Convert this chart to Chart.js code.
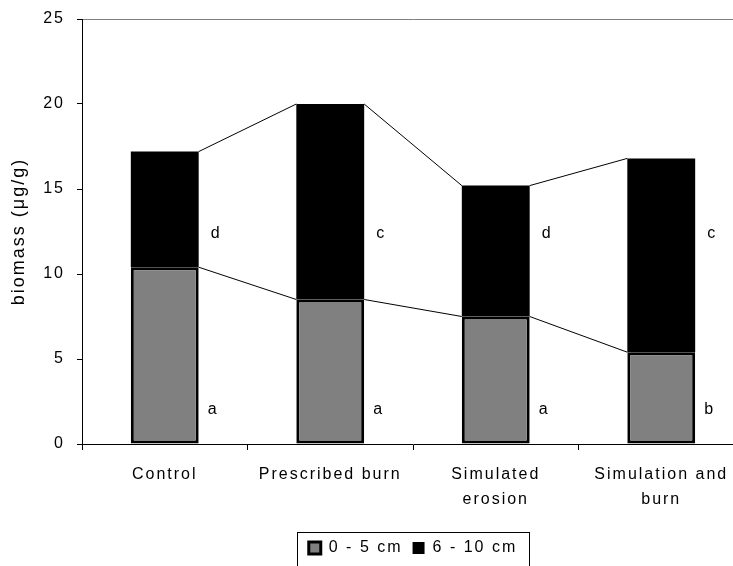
<!DOCTYPE html>
<html><head><meta charset="utf-8">
<script src="https://cdn.jsdelivr.net/npm/chart.js@4"></script>
<style>html,body{margin:0;padding:0;background:#fff;overflow:hidden;width:733px;height:566px}
#wrap{width:744px;height:566px;position:relative}</style>
</head><body><div id="wrap"><canvas id="c" width="744" height="566"></canvas></div>
<script>
const categories = ['Control', 'Prescribed burn', ['Simulated', 'erosion'], ['Simulation and', 'burn']];
const depth0to5 = [10.4, 8.5, 7.5, 5.4];
const depth6to10 = [6.8, 11.5, 7.7, 11.4];
const lettersShallow = ['a', 'a', 'a', 'b'];
const lettersDeep = ['d', 'c', 'd', 'c'];
const yTicks = [0, 5, 10, 15, 20, 25];

const FAMILY = "'Liberation Sans', Arial, sans-serif";
const lineFont = {family: FAMILY, size: 16};

const spacingPlugin = {
  id: 'spacing',
  beforeUpdate(chart) { chart.ctx.letterSpacing = '2px'; },
  beforeDraw(chart) { chart.ctx.letterSpacing = '2px'; }
};

const seriesLines = {
  id: 'seriesLines',
  afterDatasetsDraw(chart) {
    const ctx = chart.ctx;
    ctx.save();
    ctx.strokeStyle = '#000';
    ctx.lineWidth = 1;
    chart.data.datasets.forEach((ds, d) => {
      const meta = chart.getDatasetMeta(d);
      for (let i = 0; i < meta.data.length - 1; i++) {
        const a = meta.data[i], b = meta.data[i + 1];
        ctx.beginPath();
        ctx.moveTo(a.x + a.width / 2, a.y);
        ctx.lineTo(b.x - b.width / 2, b.y);
        ctx.stroke();
      }
    });
    ctx.restore();
  }
};

const letterPlugin = {
  id: 'letters',
  afterDatasetsDraw(chart, args, opts) {
    const ctx = chart.ctx;
    const ys = chart.scales.y;
    const meta = chart.getDatasetMeta(0);
    ctx.save();
    ctx.letterSpacing = '2px';
    ctx.fillStyle = '#000';
    ctx.font = '16px ' + FAMILY;
    ctx.textAlign = 'left';
    ctx.textBaseline = 'middle';
    meta.data.forEach((el, i) => {
      const x = el.x + el.width / 2;
      ctx.fillText(lettersShallow[i], x + opts.dxLow, ys.getPixelForValue(opts.yLow));
      ctx.fillText(lettersDeep[i], x + opts.dxHigh, ys.getPixelForValue(opts.yHigh));
    });
    ctx.restore();
  }
};

const legendBox = {
  id: 'legendBox',
  afterDraw(chart) {
    const hb = chart.legend.legendHitBoxes;
    if (!hb || !hb.length) return;
    const last = hb[hb.length - 1];
    const ctx = chart.ctx;
    ctx.save();
    ctx.strokeStyle = '#000';
    ctx.lineWidth = 1;
    const cy = hb[0].top + hb[0].height / 2;
    const l = Math.round(hb[0].left - 12) + 0.5;
    const r = Math.round(last.left + last.width + 12) + 0.5;
    const t = Math.round(cy - 16) + 0.5;
    const b = Math.round(cy + 30) + 0.5;
    ctx.strokeRect(l, t, r - l, b - t);
    ctx.restore();
  }
};

new Chart(document.getElementById('c'), {
  type: 'bar',
  data: {
    labels: categories,
    datasets: [
      {label: '0 - 5 cm', data: depth0to5, backgroundColor: '#808080', borderColor: '#000', borderWidth: 3, borderSkipped: false},
      {label: '6 - 10 cm', data: depth6to10, backgroundColor: '#000', borderColor: '#000', borderWidth: 0}
    ]
  },
  options: {
    responsive: false,
    animation: false,
    devicePixelRatio: 1,
    layout: {padding: {top: 19, left: 0, right: 0, bottom: 0}},
    datasets: {bar: {categoryPercentage: 1, barPercentage: 0.41}},
    plugins: {
      legend: {position: 'bottom', fullSize: false,
        labels: {boxWidth: 12, boxHeight: 12, padding: 10, color: '#000', font: lineFont}},
      tooltip: {enabled: false},
      letters: {dxLow: 9, dxHigh: 12, yLow: 2, yHigh: 12.4}
    },
    scales: {
      x: {
        stacked: true,
        grid: {offset: true, drawOnChartArea: false, tickLength: 6, color: '#000', tickColor: '#000'},
        border: {color: '#000', width: 1},
        ticks: {color: '#000', font: {family: FAMILY, size: 16, lineHeight: 1.5625}, padding: 12, maxRotation: 0, autoSkip: false},
        afterFit(s) { s.height = 86; }
      },
      y: {
        stacked: true, min: 0, max: 25,
        afterBuildTicks(s) { s.ticks = yTicks.map(v => ({value: v})); },
        ticks: {color: '#000', font: {family: FAMILY, size: 16, lineHeight: 0.6}, padding: 12},
        grid: {tickLength: 5, color: c => (c.tick && c.tick.value === 25) ? '#808080' : 'rgba(0,0,0,0)', tickColor: '#000'},
        border: {color: '#000'},
        title: {display: true, text: 'biomass (μg/g)', color: '#000', font: {family: FAMILY, size: 18}, padding: {top: 8, bottom: 0}},
        afterFit(s) { s.width = 82; }
      }
    }
  },
  plugins: [spacingPlugin, seriesLines, letterPlugin, legendBox]
});
</script></body></html>
